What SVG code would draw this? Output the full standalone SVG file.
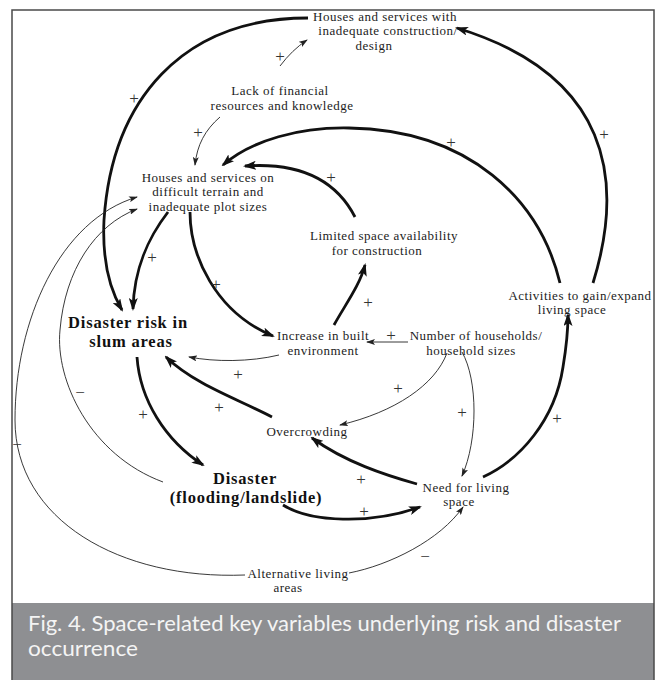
<svg xmlns="http://www.w3.org/2000/svg" width="664" height="680" viewBox="0 0 664 680">
<style>
.n{font-family:"Liberation Serif","Times New Roman",serif;font-size:13px;letter-spacing:0.5px;fill:#1c1c1c;text-anchor:middle}
.b{font-family:"Liberation Serif","Times New Roman",serif;font-size:16.5px;letter-spacing:0.8px;font-weight:bold;fill:#111;text-anchor:middle}
.s{font-family:"Liberation Serif","Times New Roman",serif;font-size:17px;fill:#333;text-anchor:middle}
.thk{fill:none;stroke:#111;stroke-width:2.8;marker-end:url(#ah)}
.thn{fill:none;stroke:#222;stroke-width:0.9;marker-end:url(#as)}
.cap{font-family:Lato,"Open Sans",sans-serif;font-size:21px;fill:#f4f4f4}
</style>
<defs>
<marker id="ah" viewBox="0 0 13 9" refX="11" refY="4.5" markerWidth="13" markerHeight="9" orient="auto" markerUnits="userSpaceOnUse"><path d="M0,0 L13,4.5 L0,9 L3,4.5 z" fill="#111"/></marker>
<marker id="as" viewBox="0 0 9 6" refX="8" refY="3" markerWidth="9" markerHeight="6" orient="auto" markerUnits="userSpaceOnUse"><path d="M0,0 L9,3 L0,6 L2,3 z" fill="#222"/></marker>
</defs>
<rect x="0" y="0" width="664" height="680" fill="#fff"/>
<rect x="12" y="603" width="642" height="77" fill="#8e8f92"/>
<rect x="12" y="10" width="642" height="672" fill="none" stroke="#4a4a4a" stroke-width="1.5"/>
<g id="connectors">
<path class="thk" d="M308,18 C182,18 112,100 104,220 C102,262 110,290 122,310"/>
<path class="thk" d="M168,212 C148,238 134,268 133,309"/>
<path class="thk" d="M190,212 C190,255 215,312 273,336"/>
<path class="thk" d="M334,325 C345,305 360,285 365,265"/>
<path class="thk" d="M355,217 C337,182 302,162 245,166"/>
<path class="thk" d="M560,283 C540,200 470,130 349,128 C300,127 252,140 223,165"/>
<path class="thk" d="M593,283 C625,180 610,75 457,28"/>
<path class="thk" d="M483,477 C520,460 555,420 563,367 C567,343 568,330 568,315"/>
<path class="thk" d="M417,484 C385,475 345,462 312,438"/>
<path class="thk" d="M272,417 C240,400 195,385 166,357"/>
<path class="thk" d="M137,357 C140,400 165,440 203,465"/>
<path class="thk" d="M283,505 C310,522 370,525 420,507"/>
<path class="thn" d="M280,66 Q292,50 307,40"/>
<path class="thn" d="M220,117 C205,130 197,145 195,165"/>
<path class="thn" d="M279,355 C250,362 215,362 189,357"/>
<path class="thn" d="M408,342 L367,342"/>
<path class="thn" d="M447,353 C435,385 395,412 340,425"/>
<path class="thn" d="M462,352 C478,380 478,440 462,476"/>
<path class="thn" d="M349,573 C390,565 440,540 463,507"/>
<path class="thn" d="M245,575 C120,580 15,520 15,420 C15,320 60,220 137,197"/>
<path class="thn" d="M163,482 C90,455 55,380 60,330 C65,270 95,225 137,209"/>
<g id="polarity">
<text class="s" x="134" y="104">+</text>
<text class="s" x="280" y="62">+</text>
<text class="s" x="198" y="138">+</text>
<text class="s" x="331" y="183">+</text>
<text class="s" x="451" y="148">+</text>
<text class="s" x="604" y="140">+</text>
<text class="s" x="152" y="263">+</text>
<text class="s" x="216" y="290">+</text>
<text class="s" x="368" y="308">+</text>
<text class="s" x="391" y="341">+</text>
<text class="s" x="238" y="380">+</text>
<text class="s" x="219" y="413">+</text>
<text class="s" x="143" y="420">+</text>
<text class="s" x="398" y="394">+</text>
<text class="s" x="462" y="418">+</text>
<text class="s" x="557" y="424">+</text>
<text class="s" x="361" y="485">+</text>
<text class="s" x="364" y="517">+</text>
<text class="s" x="80" y="398">−</text>
<text class="s" x="17" y="450">−</text>
<text class="s" x="425" y="562">−</text>
</g>
</g>
<g id="n-construction">
<text class="n" x="385" y="20.5">Houses and services with</text>
<text class="n" x="388" y="35">inadequate construction/</text>
<text class="n" x="374" y="49.5">design</text>
</g>
<g id="n-financial">
<text class="n" x="280" y="95">Lack of financial</text>
<text class="n" x="282" y="109.5">resources and knowledge</text>
</g>
<g id="n-terrain">
<text class="n" x="208" y="181.5">Houses and services on</text>
<text class="n" x="208" y="196">difficult terrain and</text>
<text class="n" x="208" y="210.5">inadequate plot sizes</text>
</g>
<g id="n-limited">
<text class="n" x="384" y="240">Limited space availability</text>
<text class="n" x="377" y="254.5">for construction</text>
</g>
<g id="n-activities">
<text class="n" x="580" y="299.5">Activities to gain/expand</text>
<text class="n" x="572" y="314">living space</text>
</g>
<g id="n-risk">
<text class="b" x="128" y="328">Disaster risk in</text>
<text class="b" x="131" y="346.5">slum areas</text>
</g>
<g id="n-built">
<text class="n" x="323" y="340">Increase in built</text>
<text class="n" x="323" y="354.5">environment</text>
</g>
<g id="n-households">
<text class="n" x="476" y="340">Number of households/</text>
<text class="n" x="471" y="354.5">household sizes</text>
</g>
<g id="n-overcrowding">
<text class="n" x="307" y="436">Overcrowding</text>
</g>
<g id="n-disaster">
<text class="b" x="245" y="484">Disaster</text>
<text class="b" x="246" y="502.5">(flooding/landslide)</text>
</g>
<g id="n-need">
<text class="n" x="466" y="491.5">Need for living</text>
<text class="n" x="459" y="506">space</text>
</g>
<g id="n-alternative">
<text class="n" x="298" y="577.5">Alternative living</text>
<text class="n" x="288" y="592">areas</text>
</g>
<g id="caption">
<text class="cap" x="28" y="631" textLength="593" lengthAdjust="spacingAndGlyphs">Fig. 4. Space-related key variables underlying risk and disaster</text>
<text class="cap" x="28" y="656" textLength="110" lengthAdjust="spacingAndGlyphs">occurrence</text>
</g>
</svg>
